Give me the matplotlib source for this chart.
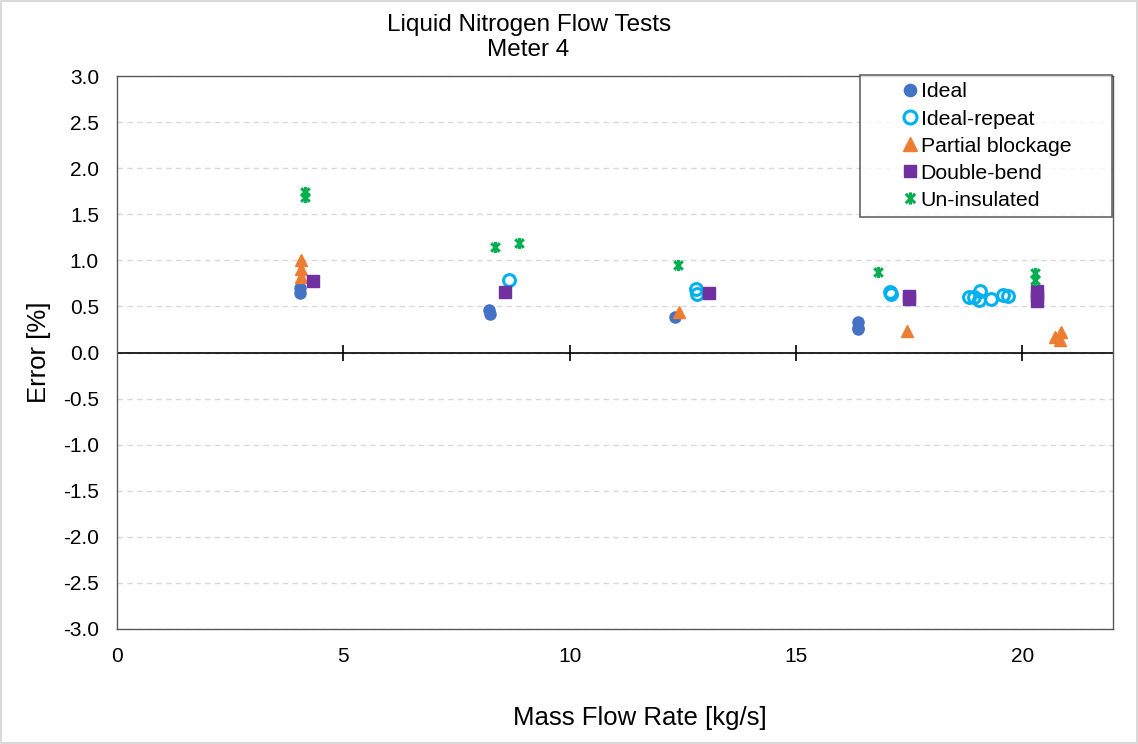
import matplotlib
matplotlib.use("Agg")
import matplotlib.pyplot as plt
from matplotlib.path import Path

plt.rcParams['font.family'] = ['Liberation Sans', 'DejaVu Sans']

# data
ideal_x = [4.05, 4.05, 8.22, 8.24, 12.32, 16.36, 16.37, 16.36]
ideal_y = [0.70, 0.65, 0.46, 0.42, 0.39, 0.33, 0.27, 0.26]

repeat_x = [8.65, 12.8, 12.82, 17.08, 17.1, 18.83, 18.94, 19.03, 19.07, 19.31, 19.56, 19.69]
repeat_y = [0.79, 0.69, 0.63, 0.66, 0.64, 0.60, 0.60, 0.57, 0.67, 0.58, 0.62, 0.61]

partial_x = [4.07, 4.07, 4.07, 12.41, 17.46, 20.71, 20.86, 20.84]
partial_y = [1.00, 0.91, 0.82, 0.44, 0.23, 0.17, 0.22, 0.14]

bend_x = [4.34, 8.56, 13.07, 17.5, 17.5, 20.33, 20.33, 20.33]
bend_y = [0.78, 0.66, 0.65, 0.61, 0.58, 0.67, 0.61, 0.56]

uninsul_x = [4.16, 4.16, 8.34, 8.89, 12.39, 16.81, 20.27, 20.27]
uninsul_y = [1.74, 1.69, 1.15, 1.19, 0.95, 0.87, 0.86, 0.79]

star = Path([(-1, -1), (1, 1), (-1, 1), (1, -1), (0, -1.3), (0, 1.3)],
            [Path.MOVETO, Path.LINETO, Path.MOVETO, Path.LINETO, Path.MOVETO, Path.LINETO])

fig = plt.figure(figsize=(11.38, 7.44), dpi=100)
fig.patch.set_edgecolor('#d9d9d9')
fig.patch.set_linewidth(1.5)
ax = fig.add_axes([0.1028, 0.1546, 0.8752, 0.7432])

ax.plot(ideal_x, ideal_y, 'o', color='#4472C4', ms=8, ls='none', label='Ideal')
ax.plot(repeat_x, repeat_y, 'o', mfc='none', mec='#00B0F0', mew=2.2, ms=8.5, ls='none', label='Ideal-repeat')
ax.plot(partial_x, partial_y, '^', color='#ED7D31', ms=9, ls='none', label='Partial blockage')
ax.plot(bend_x, bend_y, 's', color='#7030A0', ms=8, ls='none', label='Double-bend')
ax.plot(uninsul_x, uninsul_y, marker=star, mfc='none', mec='#00B050', mew=2.2, ms=8,
        ls='none', label='Un-insulated')

ax.set_xlim(0, 22)
ax.set_ylim(-3, 3)
xt = [0, 5, 10, 15, 20]
ax.set_xticks(xt)
ax.set_yticks([-3 + 0.5 * i for i in range(13)])
ax.set_yticklabels(['%.1f' % (-3 + 0.5 * i) for i in range(13)])
ax.tick_params(axis='both', length=0, labelsize=15, colors='#000000')
ax.tick_params(axis='x', pad=13)
ax.tick_params(axis='y', pad=13)
ax.yaxis.grid(True, ls=(0, (4, 3)), color='#d9d9d9', lw=1)
ax.set_axisbelow(True)
for s in ax.spines.values():
    s.set_color('#595959')
    s.set_linewidth(1)

# zero line with crossing tick marks
ax.axhline(0, color='#000000', lw=1.2, zorder=1.5)
ax.plot(xt[1:], [0] * 4, marker='|', ms=12, mew=1.2, color='#000000', ls='none', zorder=1.5)

ax.set_xlabel('Mass Flow Rate [kg/s]', fontsize=18.5)
ax.xaxis.set_label_coords((640 - 117) / 996, -0.14)
ax.set_ylabel('Error [%]', fontsize=18.5)
ax.yaxis.set_label_coords(-0.066, 0.5)
fig.text(0.4645, 0.966, 'Liquid Nitrogen Flow Tests', ha='center', va='center', fontsize=17.5)
fig.text(0.4645, 0.933, 'Meter 4', ha='center', va='center', fontsize=17.5)

leg = ax.legend(loc='upper left', bbox_to_anchor=(860 / 1138, 1 - 75 / 744 - 0.01, 252 / 1138, 0.01),
                bbox_transform=fig.transFigure, mode='expand',
                fontsize=15.3, frameon=True, fancybox=False, handlelength=4.0, handletextpad=-1.5,
                borderpad=0.35, labelspacing=0.38, borderaxespad=0, markerscale=1.1)
leg.get_frame().set_edgecolor('#404040')
leg.get_frame().set_linewidth(1.2)

fig.savefig('out.png', dpi=100, edgecolor=fig.get_edgecolor())
